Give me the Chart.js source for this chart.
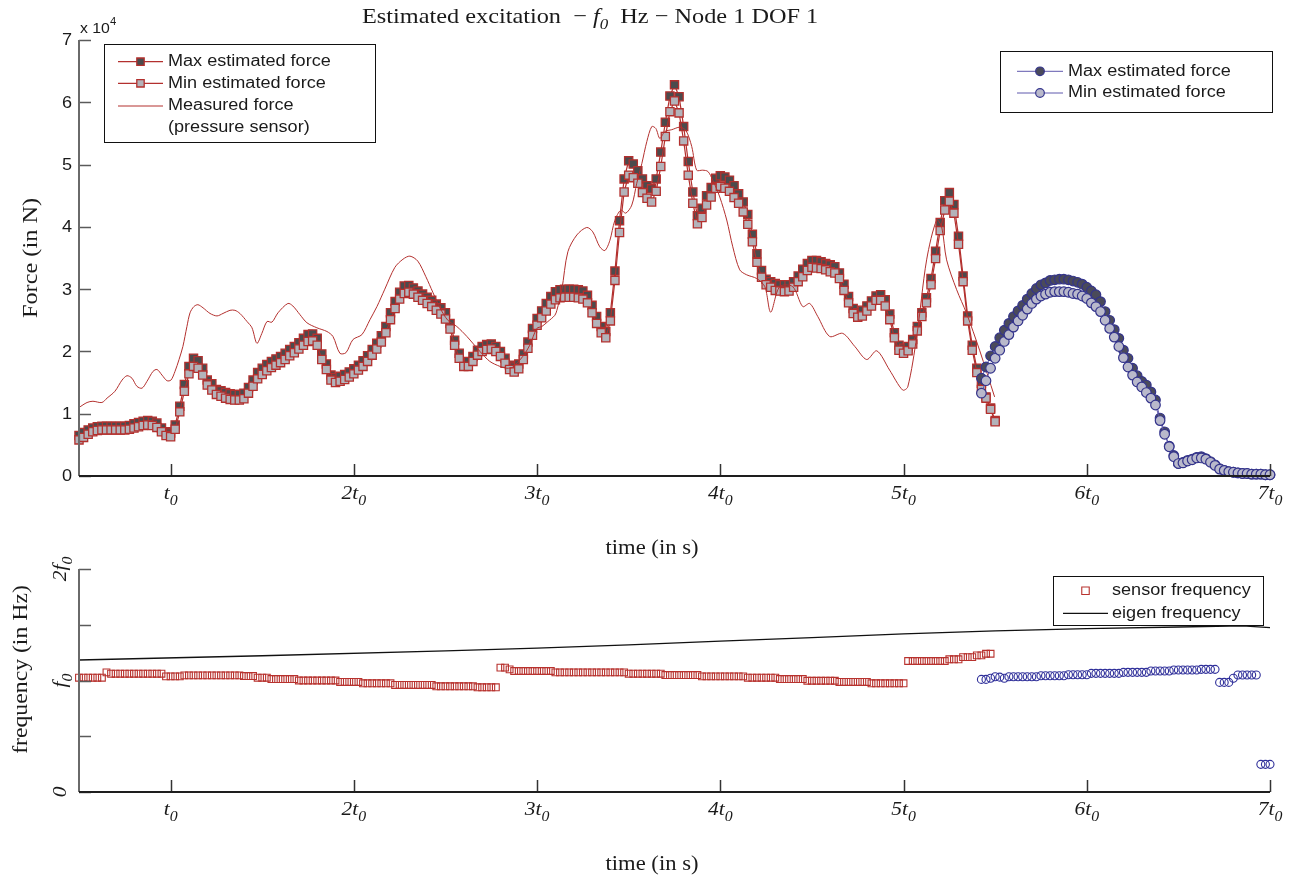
<!DOCTYPE html>
<html>
<head>
<meta charset="utf-8">
<title>Estimated excitation</title>
<script src="https://cdn.jsdelivr.net/npm/chart.js@4.4.0/dist/chart.umd.min.js"></script>
<style>
  html, body { margin: 0; padding: 0; background: #fff; }
  #wrap { position: relative; width: 1303px; height: 880px; }
  #wrap canvas { position: absolute; left: 0; top: 0; }
</style>
</head>
<body>
<div id="wrap">
  <canvas id="force-chart" width="1303" height="880"></canvas>
  <canvas id="freq-chart" width="1303" height="880"></canvas>
</div>
<script>
// time in units of t0, force in units of 1e4 N, frequency in units of f0
const T_STEP = 0.025;
const RED_START = 0.5;
const BLUE_START = 5.425;

const maxForceRed = [
  0.65,0.70,0.74,0.77,0.79,0.80,0.80,0.80,0.80,0.80,
  0.80,0.81,0.84,0.86,0.88,0.89,0.88,0.85,0.77,0.71,
  0.69,0.82,1.12,1.47,1.76,1.89,1.85,1.73,1.54,1.48,
  1.39,1.37,1.34,1.32,1.31,1.31,1.33,1.42,1.54,1.66,
  1.73,1.79,1.84,1.88,1.92,1.97,2.03,2.08,2.14,2.21,
  2.27,2.28,2.21,1.96,1.80,1.62,1.58,1.60,1.63,1.67,
  1.72,1.78,1.85,1.93,2.03,2.13,2.25,2.40,2.62,2.80,
  2.95,3.05,3.06,3.02,2.97,2.92,2.87,2.82,2.76,2.70,
  2.62,2.45,2.18,1.97,1.83,1.84,1.92,2.02,2.08,2.11,
  2.12,2.08,2.00,1.89,1.78,1.75,1.80,1.96,2.15,2.37,
  2.53,2.65,2.77,2.88,2.96,2.99,3.00,3.00,3.00,2.99,
  2.97,2.90,2.74,2.56,2.40,2.32,2.62,3.29,4.10,4.77,
  5.06,5.01,4.90,4.77,4.66,4.61,4.77,5.20,5.68,6.10,
  6.28,6.09,5.61,5.05,4.56,4.18,4.30,4.50,4.63,4.78,
  4.82,4.80,4.75,4.66,4.53,4.40,4.20,3.88,3.57,3.30,
  3.16,3.12,3.09,3.07,3.07,3.07,3.12,3.21,3.32,3.41,
  3.46,3.46,3.44,3.41,3.39,3.36,3.26,3.08,2.88,2.69,
  2.62,2.66,2.73,2.81,2.89,2.91,2.83,2.60,2.30,2.10,
  2.05,2.08,2.19,2.40,2.62,2.86,3.17,3.61,4.07,4.42,
  4.55,4.36,3.85,3.21,2.57,2.10,1.73,1.49,1.27,1.09,
  0.89
];
const minForceRed = [
  0.58,0.62,0.67,0.71,0.73,0.74,0.74,0.74,0.74,0.74,
  0.74,0.75,0.77,0.79,0.81,0.82,0.81,0.78,0.71,0.65,
  0.63,0.75,1.03,1.36,1.64,1.76,1.73,1.62,1.46,1.38,
  1.31,1.28,1.25,1.23,1.22,1.22,1.24,1.33,1.44,1.56,
  1.63,1.69,1.74,1.78,1.82,1.87,1.93,1.98,2.04,2.10,
  2.16,2.17,2.10,1.87,1.71,1.54,1.50,1.52,1.55,1.59,
  1.64,1.70,1.76,1.84,1.94,2.04,2.15,2.30,2.51,2.69,
  2.84,2.93,2.95,2.92,2.87,2.82,2.77,2.72,2.66,2.60,
  2.52,2.36,2.10,1.89,1.76,1.76,1.84,1.94,2.00,2.03,
  2.04,2.00,1.92,1.81,1.71,1.67,1.72,1.87,2.05,2.26,
  2.42,2.54,2.65,2.76,2.83,2.86,2.87,2.87,2.87,2.86,
  2.84,2.78,2.62,2.45,2.30,2.22,2.49,3.14,3.91,4.56,
  4.83,4.79,4.70,4.55,4.46,4.40,4.57,4.97,5.45,5.85,
  6.02,5.83,5.38,4.83,4.38,4.05,4.15,4.35,4.48,4.62,
  4.65,4.62,4.57,4.47,4.38,4.24,4.04,3.76,3.43,3.19,
  3.07,3.03,2.98,2.97,2.96,2.97,3.03,3.12,3.20,3.30,
  3.35,3.34,3.33,3.31,3.28,3.26,3.17,2.98,2.78,2.61,
  2.55,2.57,2.65,2.73,2.82,2.82,2.73,2.51,2.22,2.02,
  1.97,2.01,2.12,2.33,2.56,2.78,3.07,3.49,3.94,4.27,
  4.41,4.22,3.72,3.12,2.49,2.02,1.66,1.39,1.25,1.07,
  0.87
];
const maxForceBlue = [
  1.57,1.75,1.93,2.08,2.22,2.34,2.45,2.56,2.65,2.74,
  2.84,2.93,3.01,3.07,3.10,3.14,3.15,3.16,3.16,3.15,
  3.13,3.11,3.08,3.03,2.97,2.91,2.80,2.64,2.50,2.35,
  2.21,2.02,1.89,1.73,1.61,1.52,1.46,1.35,1.22,0.93,
  0.71,0.48,0.33,0.20,0.22,0.25,0.27,0.30,0.31,0.28,
  0.23,0.18,0.12,0.09,0.07,0.06,0.05,0.04,0.04,0.03,
  0.03,0.03,0.02,0.02
];
const minForceBlue = [
  1.33,1.53,1.73,1.89,2.02,2.16,2.27,2.39,2.49,2.58,
  2.68,2.77,2.84,2.89,2.92,2.95,2.96,2.96,2.96,2.95,
  2.93,2.92,2.89,2.85,2.78,2.72,2.64,2.50,2.37,2.23,
  2.08,1.90,1.75,1.62,1.51,1.43,1.34,1.25,1.14,0.89,
  0.67,0.47,0.31,0.20,0.21,0.24,0.26,0.29,0.29,0.27,
  0.22,0.17,0.11,0.09,0.07,0.06,0.05,0.04,0.04,0.03,
  0.03,0.03,0.02,0.02
];
const measuredTime = [
  0.500,0.544,0.576,0.625,0.653,0.696,0.735,0.762,0.789,0.816,
  0.844,0.871,0.904,0.926,0.953,0.980,1.002,1.024,1.046,1.067,
  1.089,1.106,1.127,1.149,1.177,1.215,1.253,1.286,1.324,1.351,
  1.378,1.417,1.444,1.471,1.498,1.526,1.553,1.586,1.640,1.667,
  1.706,1.744,1.798,1.853,1.886,1.924,1.957,1.995,2.044,2.088,
  2.126,2.169,2.224,2.268,2.306,2.349,2.393,2.431,2.470,2.513,
  2.562,2.617,2.688,2.742,2.797,2.835,2.868,2.922,2.960,2.999,
  3.026,3.059,3.097,3.108,3.135,3.168,3.217,3.271,3.304,3.342,
  3.370,3.397,3.424,3.457,3.484,3.517,3.544,3.572,3.599,3.626,
  3.648,3.670,3.697,3.735,3.779,3.812,3.844,3.871,3.904,3.932,
  3.959,3.997,4.035,4.068,4.106,4.144,4.199,4.243,4.275,4.324,
  4.395,4.450,4.488,4.532,4.597,4.668,4.734,4.799,4.854,4.924,
  4.995,5.023,5.072,5.126,5.181,5.208,5.235,5.290,5.344,5.415,
  5.497
];
const measuredForce = [
  1.10,1.18,1.20,1.18,1.25,1.36,1.54,1.61,1.57,1.44,
  1.41,1.52,1.68,1.71,1.62,1.53,1.54,1.68,1.87,2.08,
  2.40,2.62,2.72,2.75,2.70,2.61,2.57,2.61,2.66,2.66,
  2.61,2.48,2.38,2.13,2.29,2.48,2.47,2.62,2.77,2.73,
  2.59,2.46,2.38,2.32,2.24,1.97,1.98,2.19,2.27,2.51,
  2.72,3.00,3.35,3.48,3.53,3.45,3.20,2.95,2.70,2.50,
  2.40,2.24,2.00,1.84,1.76,1.73,1.75,1.92,2.10,2.37,
  2.40,2.48,2.58,2.66,2.99,3.60,3.87,3.99,3.92,3.68,
  3.62,3.78,4.10,4.27,4.22,4.35,4.70,5.02,5.37,5.61,
  5.58,5.42,5.53,5.56,5.60,5.55,5.29,4.91,4.91,4.89,
  4.75,4.48,4.11,3.68,3.31,3.23,3.17,3.04,2.63,3.04,
  3.04,2.72,2.77,2.56,2.24,2.29,2.08,1.87,2.01,1.70,
  1.38,1.43,2.24,3.47,4.11,4.00,3.47,2.99,2.61,2.02,
  1.27
];
const sensorFreqRed = [
  1.025,1.025,1.025,1.025,1.025,1.025,1.073,1.061,1.061,1.061,
  1.061,1.061,1.061,1.061,1.061,1.061,1.061,1.061,1.061,1.037,
  1.037,1.037,1.037,1.046,1.046,1.046,1.046,1.046,1.046,1.046,
  1.046,1.046,1.046,1.046,1.046,1.046,1.040,1.040,1.040,1.025,
  1.025,1.025,1.013,1.013,1.013,1.013,1.013,1.013,1.000,1.000,
  1.000,1.000,1.000,1.000,1.000,1.000,1.000,0.987,0.987,0.987,
  0.987,0.987,0.975,0.975,0.975,0.975,0.975,0.975,0.975,0.960,
  0.960,0.960,0.960,0.960,0.960,0.960,0.960,0.960,0.948,0.948,
  0.948,0.948,0.948,0.948,0.948,0.948,0.948,0.939,0.939,0.939,
  0.939,0.939,1.115,1.115,1.100,1.085,1.085,1.085,1.085,1.085,
  1.085,1.085,1.085,1.085,1.073,1.073,1.073,1.073,1.073,1.073,
  1.073,1.073,1.073,1.073,1.073,1.073,1.073,1.073,1.073,1.073,
  1.061,1.061,1.061,1.061,1.061,1.061,1.061,1.061,1.049,1.049,
  1.049,1.049,1.049,1.049,1.049,1.049,1.037,1.037,1.037,1.037,
  1.037,1.037,1.037,1.037,1.037,1.037,1.025,1.025,1.025,1.025,
  1.025,1.025,1.025,1.013,1.013,1.013,1.013,1.013,1.013,0.998,
  0.998,0.998,0.998,0.998,0.998,0.998,0.987,0.987,0.987,0.987,
  0.987,0.987,0.987,0.975,0.975,0.975,0.975,0.975,0.975,0.975,
  0.975,1.175,1.175,1.175,1.175,1.175,1.175,1.175,1.175,1.175,
  1.190,1.190,1.190,1.210,1.210,1.210,1.225,1.225,1.240,1.240
];
const sensorFreqBlue = [
  1.010,1.010,1.020,1.034,1.030,1.020,1.034,1.034,1.034,1.034,
  1.034,1.034,1.034,1.043,1.043,1.043,1.043,1.043,1.043,1.052,
  1.052,1.052,1.052,1.052,1.064,1.064,1.064,1.064,1.064,1.064,
  1.064,1.073,1.073,1.073,1.073,1.073,1.073,1.085,1.085,1.085,
  1.085,1.085,1.094,1.094,1.094,1.094,1.094,1.094,1.100,1.100,
  1.100,1.100,0.983,0.983,0.983,1.020,1.049,1.049,1.049,1.049,
  1.049,0.248,0.248,0.248
];
const eigenTime = [0.5, 1.5, 2.5, 3.0, 3.5, 4.0, 4.5, 5.0, 5.5, 6.0, 6.5, 6.85, 7.0];
const eigenFreq = [1.184, 1.222, 1.265, 1.290, 1.320, 1.353, 1.385, 1.418, 1.445, 1.465, 1.480, 1.490, 1.474];

const timeTicks = [1, 2, 3, 4, 5, 6, 7];
const timeTickLabels = ['t_0', '2t_0', '3t_0', '4t_0', '5t_0', '6t_0', '7t_0'];
const forceTicks = [0, 1, 2, 3, 4, 5, 6, 7];
const forceTickLabels = ['0', '1', '2', '3', '4', '5', '6', '7'];
const freqTicks = [0, 0.5, 1, 1.5, 2];
const freqTickLabels = ['0', '', 'f_0', '', '2f_0'];

// ---- styles
const RED = '#b3302e';
const SERIF = '"Liberation Serif", "Times New Roman", serif';
const SANS = '"Liberation Sans", Arial, Helvetica, sans-serif';
const STRETCH = 1.13; // the figure text is a bit wide
const TICK = 12;

function series(start, step, values) {
  return values.map((v, i) => ({ x: start + i * step, y: v }));
}
function pairs(xs, ys) {
  return xs.map((x, i) => ({ x: x, y: ys[i] }));
}

// draws a row of text pieces, optionally rotated
function drawRich(ctx, parts, x, y, align, angle) {
  ctx.save();
  ctx.translate(x, y);
  if (angle) ctx.rotate(angle);
  ctx.scale(STRETCH, 1);
  let total = 0;
  parts.forEach(p => { ctx.font = p.font; p.w = ctx.measureText(p.text).width; total += p.w; });
  let cx = align === 'center' ? -total / 2 : align === 'right' ? -total : 0;
  parts.forEach(p => {
    ctx.font = p.font;
    ctx.fillText(p.text, cx, p.dy || 0);
    cx += p.w;
  });
  ctx.restore();
}
// "2t_0" -> italic 2t with subscript 0
function mathParts(label, size) {
  const bits = label.split('_');
  const parts = [{ text: bits[0], font: 'italic ' + size + 'px ' + SERIF }];
  if (bits[1]) parts.push({ text: bits[1], font: 'italic ' + Math.round(size * 0.74) + 'px ' + SERIF, dy: size * 0.3 });
  return parts;
}

function drawMarker(ctx, ds, x, y, scale) {
  const r = ds.pointRadius * scale;
  ctx.save();
  ctx.lineWidth = ds.pointBorderWidth;
  ctx.strokeStyle = ds.pointBorderColor;
  ctx.fillStyle = ds.pointBackgroundColor;
  ctx.beginPath();
  if (ds.pointStyle === 'rect') {
    const s = r * Math.SQRT1_2;
    ctx.rect(x - s, y - s, 2 * s, 2 * s);
  } else {
    ctx.arc(x, y, r, 0, Math.PI * 2);
  }
  ctx.fill();
  ctx.stroke();
  ctx.restore();
}

function drawLegend(ctx, box, rows) {
  ctx.save();
  ctx.fillStyle = '#fff';
  ctx.fillRect(box.x, box.y, box.w, box.h);
  ctx.strokeStyle = '#111';
  ctx.lineWidth = 1;
  ctx.strokeRect(Math.round(box.x) + 0.5, Math.round(box.y) + 0.5, box.w, box.h);
  rows.forEach(r => {
    const y = box.y + r.dy;
    if (r.ds) {
      if (r.ds.showLine) {
        ctx.strokeStyle = r.ds.borderColor;
        ctx.lineWidth = r.ds.borderWidth;
        ctx.beginPath();
        ctx.moveTo(box.x + box.l0, y);
        ctx.lineTo(box.x + box.l1, y);
        ctx.stroke();
      }
      if (r.ds.pointRadius > 0) drawMarker(ctx, r.ds, box.x + (box.l0 + box.l1) / 2, y, box.mk);
    }
    ctx.fillStyle = '#1a1a1a';
    ctx.textBaseline = 'middle';
    drawRich(ctx, [{ text: r.text, font: '16px ' + SANS }], box.x + box.tx, y, 'left');
  });
  ctx.restore();
}

// MATLAB-like axes: left + bottom lines, ticks pointing inward
function axesPlugin(cfg) {
  return {
    id: 'matlabAxes',
    afterDraw(chart) {
      const ctx = chart.ctx;
      const a = chart.chartArea;
      const xs = chart.scales.x, ys = chart.scales.y;
      ctx.save();
      // ticks
      ctx.lineWidth = 1.5;
      ctx.strokeStyle = '#5a5a5a';
      cfg.yTicks.forEach(v => {
        const py = Math.round(ys.getPixelForValue(v)) + 0.5;
        ctx.beginPath(); ctx.moveTo(a.left, py); ctx.lineTo(a.left + TICK, py); ctx.stroke();
      });
      ctx.strokeStyle = '#333';
      timeTicks.forEach(v => {
        const px = Math.round(xs.getPixelForValue(v)) + 0.5;
        ctx.beginPath(); ctx.moveTo(px, a.bottom); ctx.lineTo(px, a.bottom - TICK); ctx.stroke();
      });
      // axis lines
      ctx.lineWidth = 2;
      ctx.strokeStyle = '#6a6a6a';
      ctx.beginPath(); ctx.moveTo(a.left, a.top); ctx.lineTo(a.left, a.bottom); ctx.stroke();
      ctx.strokeStyle = '#1e1e1e';
      ctx.beginPath(); ctx.moveTo(a.left, a.bottom); ctx.lineTo(a.right, a.bottom); ctx.stroke();

      ctx.fillStyle = '#1a1a1a';
      // x tick labels
      ctx.textBaseline = 'alphabetic';
      timeTicks.forEach((v, k) => {
        drawRich(ctx, mathParts(timeTickLabels[k], 19), xs.getPixelForValue(v), a.bottom + 23, 'center');
      });
      // y tick labels
      cfg.yTicks.forEach((v, k) => {
        const lab = cfg.yLabels[k];
        if (!lab) return;
        const py = ys.getPixelForValue(v);
        if (cfg.rotatedY) {
          ctx.textBaseline = 'alphabetic';
          drawRich(ctx, mathParts(lab, 19), a.left - 13, py, 'center', -Math.PI / 2);
        } else {
          ctx.textBaseline = 'middle';
          drawRich(ctx, [{ text: lab, font: '16px ' + SANS }], a.left - 7, py + 1, 'right');
        }
      });
      if (cfg.exponent) {
        ctx.textBaseline = 'alphabetic';
        drawRich(ctx, [
          { text: 'x 10', font: '14px ' + SANS },
          { text: '4', font: '10px ' + SANS, dy: -8 }
        ], a.left + 1, a.top - 7, 'left');
      }
      // axis titles
      ctx.textBaseline = 'alphabetic';
      drawRich(ctx, [{ text: 'time (in s)', font: '20px ' + SERIF }], 652, a.bottom + 78, 'center');
      ctx.textBaseline = 'middle';
      drawRich(ctx, [{ text: cfg.yTitle, font: cfg.yTitleSize + 'px ' + SERIF }],
        cfg.yTitleX, (a.top + a.bottom) / 2 + cfg.yTitleDy, 'center', -Math.PI / 2);
      if (cfg.title) {
        ctx.textBaseline = 'alphabetic';
        drawRich(ctx, [
          { text: 'Estimated excitation  \u2212 ', font: '21.5px ' + SERIF },
          { text: 'f', font: 'italic 21.5px ' + SERIF },
          { text: '0', font: 'italic 15px ' + SERIF, dy: 6 },
          { text: '  Hz \u2212 Node 1 DOF 1', font: '21.5px ' + SERIF }
        ], 362, 23, 'left');
      }
      if (cfg.legends) cfg.legends(chart, ctx, a);
      ctx.restore();
    }
  };
}

// ---- top chart: force
const forceDatasets = [
  {
    label: 'Min estimated force (late)',
    data: series(BLUE_START, T_STEP, minForceBlue),
    showLine: true, borderColor: '#5f58ad', borderWidth: 1,
    pointStyle: 'circle', pointRadius: 4.8, pointBorderWidth: 1.2,
    pointBackgroundColor: '#b9b9cb', pointBorderColor: '#34348c'
  },
  {
    label: 'Max estimated force (late)',
    data: series(BLUE_START, T_STEP, maxForceBlue),
    showLine: true, borderColor: '#5f58ad', borderWidth: 1,
    pointStyle: 'circle', pointRadius: 4.8, pointBorderWidth: 1.2,
    pointBackgroundColor: '#4a4a5a', pointBorderColor: '#34348c'
  },
  {
    label: 'Measured force (pressure sensor)',
    data: pairs(measuredTime, measuredForce),
    showLine: true, borderColor: RED, borderWidth: 1, tension: 0.3,
    pointRadius: 0
  },
  {
    label: 'Min estimated force',
    data: series(RED_START, T_STEP, minForceRed),
    showLine: true, borderColor: RED, borderWidth: 1.2,
    pointStyle: 'rect', pointRadius: 5.8, pointBorderWidth: 1.3,
    pointBackgroundColor: '#b3b3ba', pointBorderColor: RED
  },
  {
    label: 'Max estimated force',
    data: series(RED_START, T_STEP, maxForceRed),
    showLine: true, borderColor: RED, borderWidth: 1.2,
    pointStyle: 'rect', pointRadius: 5.8, pointBorderWidth: 1.3,
    pointBackgroundColor: '#4b4b4d', pointBorderColor: RED
  }
];
forceDatasets.forEach(ds => { ds.clip = false; });

new Chart(document.getElementById('force-chart'), {
  type: 'scatter',
  data: { datasets: forceDatasets },
  options: {
    responsive: false,
    devicePixelRatio: 1,
    animation: false,
    events: [],
    layout: { padding: { left: 79, right: 33, top: 40, bottom: 404 } },
    scales: {
      x: { type: 'linear', min: 0.5, max: 7, display: false },
      y: { type: 'linear', min: 0, max: 7, display: false }
    },
    plugins: { legend: { display: false }, tooltip: { enabled: false } }
  },
  plugins: [axesPlugin({
    yTicks: forceTicks, yLabels: forceTickLabels, exponent: true, title: true,
    yTitle: 'Force (in N)', yTitleX: 31, yTitleDy: 0, yTitleSize: 21.5,
    legends(chart, ctx, a) {
      const d = chart.data.datasets;
      drawLegend(ctx, { x: a.left + 25, y: a.top + 4, w: 271, h: 98, l0: 14, l1: 59, tx: 64, mk: 0.9 }, [
        { ds: d[4], text: 'Max estimated force', dy: 17.7 },
        { ds: d[3], text: 'Min estimated force', dy: 39.3 },
        { ds: d[2], text: 'Measured force', dy: 62 },
        { text: '(pressure sensor)', dy: 84 }
      ]);
      drawLegend(ctx, { x: a.right - 270, y: a.top + 11, w: 272, h: 61, l0: 17, l1: 63, tx: 68, mk: 0.9 }, [
        { ds: d[1], text: 'Max estimated force', dy: 20.3 },
        { ds: d[0], text: 'Min estimated force', dy: 42 }
      ]);
    }
  })]
});

// ---- bottom chart: frequency
const freqDatasets = [
  {
    label: 'eigen frequency',
    data: pairs(eigenTime, eigenFreq),
    showLine: true, borderColor: '#111', borderWidth: 1.3, pointRadius: 0
  },
  {
    label: 'sensor frequency (late)',
    data: series(BLUE_START, T_STEP, sensorFreqBlue),
    showLine: false, pointStyle: 'circle', pointRadius: 4, pointBorderWidth: 1.1,
    pointBackgroundColor: 'rgba(0,0,0,0)', pointBorderColor: '#2f2f9a'
  },
  {
    label: 'sensor frequency',
    data: series(RED_START, T_STEP, sensorFreqRed),
    showLine: false, pointStyle: 'rect', pointRadius: 4.8, pointBorderWidth: 1.1,
    pointBackgroundColor: 'rgba(0,0,0,0)', pointBorderColor: '#b8322e'
  }
];
freqDatasets.forEach(ds => { ds.clip = false; });

new Chart(document.getElementById('freq-chart'), {
  type: 'scatter',
  data: { datasets: freqDatasets },
  options: {
    responsive: false,
    devicePixelRatio: 1,
    animation: false,
    events: [],
    layout: { padding: { left: 79, right: 33, top: 569, bottom: 88 } },
    scales: {
      x: { type: 'linear', min: 0.5, max: 7, display: false },
      y: { type: 'linear', min: 0, max: 2, display: false }
    },
    plugins: { legend: { display: false }, tooltip: { enabled: false } }
  },
  plugins: [axesPlugin({
    yTicks: freqTicks, yLabels: freqTickLabels, rotatedY: true,
    yTitle: 'frequency (in Hz)', yTitleX: 21, yTitleDy: -11, yTitleSize: 21,
    legends(chart, ctx, a) {
      const d = chart.data.datasets;
      drawLegend(ctx, { x: a.right - 217, y: a.top + 7, w: 210, h: 49, l0: 10, l1: 55, tx: 59, mk: 1.1 }, [
        { ds: d[2], text: 'sensor frequency', dy: 14.7 },
        { ds: d[0], text: 'eigen frequency', dy: 37.3 }
      ]);
    }
  })]
});
</script>
</body>
</html>
